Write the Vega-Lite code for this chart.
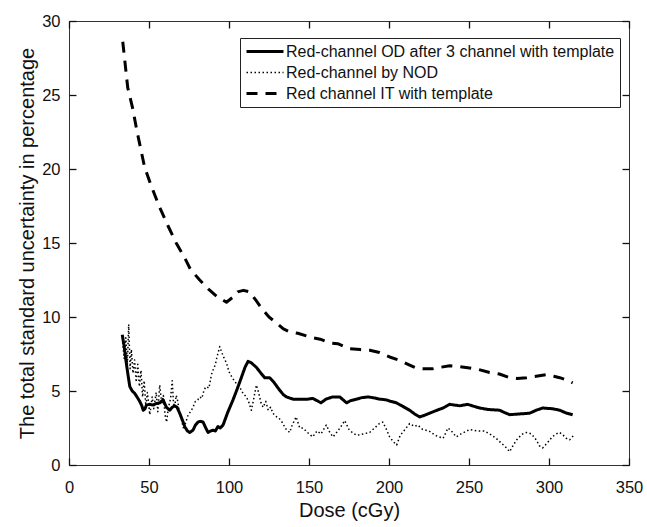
{
  "$schema": "https://vega.github.io/schema/vega-lite/v6.json",
  "width": 560,
  "height": 444,
  "autosize": "none",
  "padding": {"left": 69, "top": 21, "right": 18, "bottom": 62},
  "background": "white",
  "config": {
    "font": "Liberation Sans",
    "view": {"stroke": "#333", "strokeWidth": 1},
    "axis": {"grid": false, "domain": false, "offset": -7, "ticks": true, "tickSize": 7, "tickColor": "#111", "tickWidth": 1.3, "labelColor": "#111", "titleColor": "#111", "labelFontSize": 16.5, "titleFontSize": 20, "titleFontWeight": "normal", "labelFlush": false},
    "legend": {"orient": "none", "legendX": 171, "legendY": 17, "strokeColor": "#222", "fillColor": "white", "padding": 5, "labelFontSize": 16, "labelColor": "#111", "labelLimit": 500, "symbolType": "stroke", "symbolSize": 1369, "symbolStrokeColor": "black", "labelOffset": 1, "rowPadding": 4, "clipHeight": 17}
  },
  "datasets": {
    "curves": [
      {"series": "IT", "dose": 33.6, "u": 28.6}, {"series": "IT", "dose": 36.7, "u": 25.5}, {"series": "IT", "dose": 39.8, "u": 24.1}, {"series": "IT", "dose": 42.4, "u": 22.6}, {"series": "IT", "dose": 47.3, "u": 20.1}, {"series": "IT", "dose": 51.6, "u": 18.8}, {"series": "IT", "dose": 56.7, "u": 17.4}, {"series": "IT", "dose": 61.7, "u": 16.2}, {"series": "IT", "dose": 67, "u": 15.0}, {"series": "IT", "dose": 72.3, "u": 14.0}, {"series": "IT", "dose": 76, "u": 13.2}, {"series": "IT", "dose": 81.7, "u": 12.5}, {"series": "IT", "dose": 87, "u": 11.9}, {"series": "IT", "dose": 92.3, "u": 11.4}, {"series": "IT", "dose": 98.4, "u": 11.0}, {"series": "IT", "dose": 102, "u": 11.3}, {"series": "IT", "dose": 105.4, "u": 11.7}, {"series": "IT", "dose": 109, "u": 11.8}, {"series": "IT", "dose": 112.9, "u": 11.7}, {"series": "IT", "dose": 117, "u": 11.1}, {"series": "IT", "dose": 121, "u": 10.5}, {"series": "IT", "dose": 125, "u": 10.0}, {"series": "IT", "dose": 129.7, "u": 9.6}, {"series": "IT", "dose": 134, "u": 9.2}, {"series": "IT", "dose": 137.9, "u": 9.0}, {"series": "IT", "dose": 143, "u": 8.9}, {"series": "IT", "dose": 149, "u": 8.7}, {"series": "IT", "dose": 152.3, "u": 8.6}, {"series": "IT", "dose": 157, "u": 8.5}, {"series": "IT", "dose": 162.9, "u": 8.25}, {"series": "IT", "dose": 168, "u": 8.2}, {"series": "IT", "dose": 175.4, "u": 7.85}, {"series": "IT", "dose": 182, "u": 7.8}, {"series": "IT", "dose": 188, "u": 7.75}, {"series": "IT", "dose": 194, "u": 7.6}, {"series": "IT", "dose": 200.4, "u": 7.3}, {"series": "IT", "dose": 206, "u": 7.1}, {"series": "IT", "dose": 212.9, "u": 6.75}, {"series": "IT", "dose": 217, "u": 6.55}, {"series": "IT", "dose": 221, "u": 6.5}, {"series": "IT", "dose": 227.3, "u": 6.5}, {"series": "IT", "dose": 232, "u": 6.6}, {"series": "IT", "dose": 237.9, "u": 6.7}, {"series": "IT", "dose": 244, "u": 6.65}, {"series": "IT", "dose": 250.4, "u": 6.55}, {"series": "IT", "dose": 256, "u": 6.45}, {"series": "IT", "dose": 262.9, "u": 6.25}, {"series": "IT", "dose": 269, "u": 6.15}, {"series": "IT", "dose": 275.4, "u": 5.9}, {"series": "IT", "dose": 280, "u": 5.85}, {"series": "IT", "dose": 286, "u": 5.9}, {"series": "IT", "dose": 292, "u": 6.0}, {"series": "IT", "dose": 298.4, "u": 6.1}, {"series": "IT", "dose": 303, "u": 6.0}, {"series": "IT", "dose": 306.7, "u": 5.9}, {"series": "IT", "dose": 311, "u": 5.75}, {"series": "IT", "dose": 314.8, "u": 5.55},

      {"series": "OD", "dose": 33.3, "u": 8.8}, {"series": "OD", "dose": 34.5, "u": 8.0}, {"series": "OD", "dose": 35.8, "u": 6.9}, {"series": "OD", "dose": 37, "u": 6.0}, {"series": "OD", "dose": 38, "u": 5.3}, {"series": "OD", "dose": 39.5, "u": 5.0}, {"series": "OD", "dose": 41, "u": 4.85}, {"series": "OD", "dose": 42.5, "u": 4.6}, {"series": "OD", "dose": 44.2, "u": 4.3}, {"series": "OD", "dose": 45.5, "u": 4.0}, {"series": "OD", "dose": 46.4, "u": 3.7}, {"series": "OD", "dose": 47.5, "u": 3.8}, {"series": "OD", "dose": 48.4, "u": 4.05}, {"series": "OD", "dose": 50.5, "u": 4.1}, {"series": "OD", "dose": 52.5, "u": 4.05}, {"series": "OD", "dose": 54.5, "u": 4.15}, {"series": "OD", "dose": 56.7, "u": 4.2}, {"series": "OD", "dose": 58.8, "u": 4.4}, {"series": "OD", "dose": 60.9, "u": 3.9}, {"series": "OD", "dose": 62.9, "u": 3.7}, {"series": "OD", "dose": 64.5, "u": 3.9}, {"series": "OD", "dose": 66, "u": 4.0}, {"series": "OD", "dose": 67.5, "u": 3.9}, {"series": "OD", "dose": 69.2, "u": 3.5}, {"series": "OD", "dose": 71, "u": 3.0}, {"series": "OD", "dose": 72.3, "u": 2.6}, {"series": "OD", "dose": 74, "u": 2.3}, {"series": "OD", "dose": 75.4, "u": 2.2}, {"series": "OD", "dose": 77.5, "u": 2.35}, {"series": "OD", "dose": 79, "u": 2.7}, {"series": "OD", "dose": 80.6, "u": 2.9}, {"series": "OD", "dose": 82, "u": 2.95}, {"series": "OD", "dose": 83.8, "u": 2.9}, {"series": "OD", "dose": 85.5, "u": 2.5}, {"series": "OD", "dose": 86.9, "u": 2.2}, {"series": "OD", "dose": 88.5, "u": 2.3}, {"series": "OD", "dose": 90, "u": 2.35}, {"series": "OD", "dose": 91.5, "u": 2.3}, {"series": "OD", "dose": 93.1, "u": 2.6}, {"series": "OD", "dose": 94.5, "u": 2.5}, {"series": "OD", "dose": 96.3, "u": 2.7}, {"series": "OD", "dose": 99, "u": 3.5}, {"series": "OD", "dose": 102.5, "u": 4.4}, {"series": "OD", "dose": 105, "u": 5.1}, {"series": "OD", "dose": 107.7, "u": 5.9}, {"series": "OD", "dose": 110, "u": 6.6}, {"series": "OD", "dose": 111.9, "u": 7.0}, {"series": "OD", "dose": 114, "u": 6.9}, {"series": "OD", "dose": 117.1, "u": 6.6}, {"series": "OD", "dose": 120, "u": 6.2}, {"series": "OD", "dose": 122.3, "u": 5.9}, {"series": "OD", "dose": 125.4, "u": 5.9}, {"series": "OD", "dose": 128, "u": 5.6}, {"series": "OD", "dose": 131.7, "u": 5.05}, {"series": "OD", "dose": 134, "u": 4.75}, {"series": "OD", "dose": 135.9, "u": 4.6}, {"series": "OD", "dose": 140, "u": 4.45}, {"series": "OD", "dose": 145, "u": 4.45}, {"series": "OD", "dose": 149.4, "u": 4.45}, {"series": "OD", "dose": 152.3, "u": 4.5}, {"series": "OD", "dose": 155, "u": 4.35}, {"series": "OD", "dose": 157.5, "u": 4.2}, {"series": "OD", "dose": 160.6, "u": 4.45}, {"series": "OD", "dose": 164.8, "u": 4.6}, {"series": "OD", "dose": 169.2, "u": 4.6}, {"series": "OD", "dose": 173.5, "u": 4.2}, {"series": "OD", "dose": 176, "u": 4.35}, {"series": "OD", "dose": 179.8, "u": 4.45}, {"series": "OD", "dose": 183, "u": 4.55}, {"series": "OD", "dose": 186.7, "u": 4.6}, {"series": "OD", "dose": 190, "u": 4.55}, {"series": "OD", "dose": 194.2, "u": 4.45}, {"series": "OD", "dose": 198.4, "u": 4.4}, {"series": "OD", "dose": 201, "u": 4.3}, {"series": "OD", "dose": 204.6, "u": 4.2}, {"series": "OD", "dose": 208, "u": 4.0}, {"series": "OD", "dose": 212.9, "u": 3.7}, {"series": "OD", "dose": 216, "u": 3.45}, {"series": "OD", "dose": 219.2, "u": 3.25}, {"series": "OD", "dose": 222, "u": 3.35}, {"series": "OD", "dose": 225.4, "u": 3.5}, {"series": "OD", "dose": 230, "u": 3.7}, {"series": "OD", "dose": 233.8, "u": 3.85}, {"series": "OD", "dose": 237.9, "u": 4.1}, {"series": "OD", "dose": 241, "u": 4.05}, {"series": "OD", "dose": 244.2, "u": 4.0}, {"series": "OD", "dose": 249.2, "u": 4.1}, {"series": "OD", "dose": 252, "u": 4.0}, {"series": "OD", "dose": 256.7, "u": 3.85}, {"series": "OD", "dose": 262, "u": 3.75}, {"series": "OD", "dose": 269.2, "u": 3.7}, {"series": "OD", "dose": 272, "u": 3.55}, {"series": "OD", "dose": 275.4, "u": 3.4}, {"series": "OD", "dose": 281.7, "u": 3.45}, {"series": "OD", "dose": 287.9, "u": 3.5}, {"series": "OD", "dose": 292, "u": 3.7}, {"series": "OD", "dose": 296.1, "u": 3.85}, {"series": "OD", "dose": 302.3, "u": 3.8}, {"series": "OD", "dose": 306.7, "u": 3.7}, {"series": "OD", "dose": 311, "u": 3.5}, {"series": "OD", "dose": 314.8, "u": 3.4},

      {"series": "NOD", "dose": 33.5, "u": 8.3}, {"series": "NOD", "dose": 34.5, "u": 7.2}, {"series": "NOD", "dose": 35.5, "u": 8.6}, {"series": "NOD", "dose": 36.5, "u": 6.8}, {"series": "NOD", "dose": 37.3, "u": 9.5}, {"series": "NOD", "dose": 38.2, "u": 6.5}, {"series": "NOD", "dose": 39, "u": 7.8}, {"series": "NOD", "dose": 40, "u": 6.2}, {"series": "NOD", "dose": 41, "u": 7.1}, {"series": "NOD", "dose": 42, "u": 5.6}, {"series": "NOD", "dose": 43, "u": 6.8}, {"series": "NOD", "dose": 44, "u": 5.3}, {"series": "NOD", "dose": 45, "u": 6.4}, {"series": "NOD", "dose": 46, "u": 4.6}, {"series": "NOD", "dose": 47, "u": 5.7}, {"series": "NOD", "dose": 48, "u": 4.0}, {"series": "NOD", "dose": 49, "u": 4.9}, {"series": "NOD", "dose": 50.5, "u": 3.4}, {"series": "NOD", "dose": 52, "u": 4.6}, {"series": "NOD", "dose": 53, "u": 3.8}, {"series": "NOD", "dose": 54.5, "u": 4.9}, {"series": "NOD", "dose": 55.5, "u": 3.6}, {"series": "NOD", "dose": 56.7, "u": 5.4}, {"series": "NOD", "dose": 58, "u": 4.1}, {"series": "NOD", "dose": 59, "u": 4.7}, {"series": "NOD", "dose": 60, "u": 3.4}, {"series": "NOD", "dose": 61, "u": 2.9}, {"series": "NOD", "dose": 62, "u": 3.8}, {"series": "NOD", "dose": 63.5, "u": 4.5}, {"series": "NOD", "dose": 64.5, "u": 5.7}, {"series": "NOD", "dose": 65.3, "u": 4.2}, {"series": "NOD", "dose": 66, "u": 3.9}, {"series": "NOD", "dose": 67, "u": 4.7}, {"series": "NOD", "dose": 68, "u": 4.3}, {"series": "NOD", "dose": 69, "u": 3.5}, {"series": "NOD", "dose": 70, "u": 3.2}, {"series": "NOD", "dose": 71.7, "u": 2.4}, {"series": "NOD", "dose": 73, "u": 2.9}, {"series": "NOD", "dose": 74.5, "u": 3.4}, {"series": "NOD", "dose": 76, "u": 3.6}, {"series": "NOD", "dose": 77.5, "u": 3.9}, {"series": "NOD", "dose": 79, "u": 4.3}, {"series": "NOD", "dose": 80.5, "u": 4.4}, {"series": "NOD", "dose": 81.7, "u": 4.6}, {"series": "NOD", "dose": 83, "u": 4.5}, {"series": "NOD", "dose": 84.5, "u": 5.1}, {"series": "NOD", "dose": 85.8, "u": 5.3}, {"series": "NOD", "dose": 87.5, "u": 5.2}, {"series": "NOD", "dose": 89, "u": 6.1}, {"series": "NOD", "dose": 90, "u": 6.4}, {"series": "NOD", "dose": 91.5, "u": 6.8}, {"series": "NOD", "dose": 92.5, "u": 7.3}, {"series": "NOD", "dose": 94.2, "u": 8.0}, {"series": "NOD", "dose": 95.5, "u": 7.6}, {"series": "NOD", "dose": 97, "u": 7.2}, {"series": "NOD", "dose": 98.4, "u": 6.9}, {"series": "NOD", "dose": 100, "u": 6.3}, {"series": "NOD", "dose": 102, "u": 5.9}, {"series": "NOD", "dose": 104.6, "u": 5.5}, {"series": "NOD", "dose": 107, "u": 5.2}, {"series": "NOD", "dose": 109, "u": 4.8}, {"series": "NOD", "dose": 110.9, "u": 4.6}, {"series": "NOD", "dose": 112.5, "u": 4.2}, {"series": "NOD", "dose": 114, "u": 3.7}, {"series": "NOD", "dose": 115.5, "u": 4.5}, {"series": "NOD", "dose": 117.1, "u": 5.4}, {"series": "NOD", "dose": 118.5, "u": 4.9}, {"series": "NOD", "dose": 120, "u": 4.2}, {"series": "NOD", "dose": 121.3, "u": 3.9}, {"series": "NOD", "dose": 123, "u": 4.3}, {"series": "NOD", "dose": 124.5, "u": 3.7}, {"series": "NOD", "dose": 126, "u": 3.9}, {"series": "NOD", "dose": 127.5, "u": 3.5}, {"series": "NOD", "dose": 129, "u": 3.3}, {"series": "NOD", "dose": 131, "u": 3.2}, {"series": "NOD", "dose": 133.8, "u": 2.8}, {"series": "NOD", "dose": 135, "u": 2.5}, {"series": "NOD", "dose": 137.9, "u": 2.2}, {"series": "NOD", "dose": 139.5, "u": 2.7}, {"series": "NOD", "dose": 142, "u": 3.25}, {"series": "NOD", "dose": 144.2, "u": 2.5}, {"series": "NOD", "dose": 146.3, "u": 2.5}, {"series": "NOD", "dose": 149, "u": 2.2}, {"series": "NOD", "dose": 152.3, "u": 1.9}, {"series": "NOD", "dose": 155, "u": 2.3}, {"series": "NOD", "dose": 157.5, "u": 2.1}, {"series": "NOD", "dose": 160.8, "u": 2.7}, {"series": "NOD", "dose": 163, "u": 2.2}, {"series": "NOD", "dose": 165, "u": 1.9}, {"series": "NOD", "dose": 168, "u": 2.3}, {"series": "NOD", "dose": 170, "u": 2.6}, {"series": "NOD", "dose": 172.3, "u": 3.0}, {"series": "NOD", "dose": 175, "u": 2.4}, {"series": "NOD", "dose": 177, "u": 2.2}, {"series": "NOD", "dose": 179.8, "u": 2.0}, {"series": "NOD", "dose": 184, "u": 2.1}, {"series": "NOD", "dose": 187.9, "u": 2.2}, {"series": "NOD", "dose": 191, "u": 2.5}, {"series": "NOD", "dose": 194, "u": 2.8}, {"series": "NOD", "dose": 196.1, "u": 2.9}, {"series": "NOD", "dose": 198, "u": 2.5}, {"series": "NOD", "dose": 200.4, "u": 1.9}, {"series": "NOD", "dose": 202.5, "u": 1.6}, {"series": "NOD", "dose": 204.8, "u": 1.35}, {"series": "NOD", "dose": 207, "u": 2.0}, {"series": "NOD", "dose": 210, "u": 2.4}, {"series": "NOD", "dose": 212.9, "u": 2.8}, {"series": "NOD", "dose": 216, "u": 2.6}, {"series": "NOD", "dose": 218, "u": 2.7}, {"series": "NOD", "dose": 221, "u": 2.4}, {"series": "NOD", "dose": 225, "u": 2.3}, {"series": "NOD", "dose": 229, "u": 2.0}, {"series": "NOD", "dose": 233.8, "u": 1.8}, {"series": "NOD", "dose": 236.9, "u": 2.5}, {"series": "NOD", "dose": 239, "u": 2.3}, {"series": "NOD", "dose": 242, "u": 1.9}, {"series": "NOD", "dose": 245, "u": 2.1}, {"series": "NOD", "dose": 250.4, "u": 2.4}, {"series": "NOD", "dose": 255, "u": 2.3}, {"series": "NOD", "dose": 259.6, "u": 2.3}, {"series": "NOD", "dose": 263, "u": 2.1}, {"series": "NOD", "dose": 267, "u": 1.8}, {"series": "NOD", "dose": 270, "u": 1.5}, {"series": "NOD", "dose": 273, "u": 1.2}, {"series": "NOD", "dose": 275.4, "u": 0.9}, {"series": "NOD", "dose": 278, "u": 1.4}, {"series": "NOD", "dose": 280.5, "u": 1.8}, {"series": "NOD", "dose": 283.6, "u": 2.1}, {"series": "NOD", "dose": 286, "u": 2.2}, {"series": "NOD", "dose": 289, "u": 2.1}, {"series": "NOD", "dose": 292, "u": 1.7}, {"series": "NOD", "dose": 294, "u": 1.3}, {"series": "NOD", "dose": 296, "u": 1.15}, {"series": "NOD", "dose": 299, "u": 1.5}, {"series": "NOD", "dose": 302, "u": 1.9}, {"series": "NOD", "dose": 304.5, "u": 2.1}, {"series": "NOD", "dose": 306.7, "u": 2.2}, {"series": "NOD", "dose": 309, "u": 2.0}, {"series": "NOD", "dose": 310.9, "u": 1.8}, {"series": "NOD", "dose": 312.9, "u": 1.7}, {"series": "NOD", "dose": 315.4, "u": 2.0}
    ]
  },
  "data": {"name": "curves"},
  "layer": [
    {
      "mark": {"type": "line", "color": "black", "strokeCap": "butt", "strokeJoin": "round"},
      "encoding": {
        "x": {"field": "dose", "type": "quantitative", "title": "Dose (cGy)", "scale": {"domain": [0, 350], "nice": false}, "axis": {"values": [0, 50, 100, 150, 200, 250, 300, 350], "labelPadding": 14, "titlePadding": 5}},
        "y": {"field": "u", "type": "quantitative", "title": "The total standard uncertainty in percentage", "scale": {"domain": [0, 30], "nice": false}, "axis": {"values": [0, 5, 10, 15, 20, 25, 30], "labelPadding": 9, "titlePadding": 4}},
        "strokeDash": {"field": "series", "type": "nominal", "scale": {"domain": ["OD", "NOD", "IT"], "range": [[1, 0], [1.5, 2.5], [11, 8]]}, "legend": {"title": null, "labelExpr": "datum.value == 'OD' ? 'Red-channel OD after 3 channel with template' : datum.value == 'NOD' ? 'Red-channel by NOD' : 'Red channel IT with template'"}},
        "strokeWidth": {"field": "series", "type": "nominal", "scale": {"type": "ordinal", "domain": ["OD", "NOD", "IT"], "range": [3, 1.5, 3]}, "legend": {"title": null, "labelExpr": "datum.value == 'OD' ? 'Red-channel OD after 3 channel with template' : datum.value == 'NOD' ? 'Red-channel by NOD' : 'Red channel IT with template'"}},
        "detail": {"field": "series"}
      }
    },
    {
      "mark": {"type": "line", "opacity": 0},
      "encoding": {
        "x": {"field": "dose", "type": "quantitative", "axis": {"orient": "top", "values": [0, 50, 100, 150, 200, 250, 300, 350], "labels": false, "title": null}},
        "y": {"field": "u", "type": "quantitative", "axis": {"orient": "right", "values": [0, 5, 10, 15, 20, 25, 30], "labels": false, "title": null}},
        "detail": {"field": "series"}
      }
    }
  ],
  "resolve": {"axis": {"x": "independent", "y": "independent"}}
}
